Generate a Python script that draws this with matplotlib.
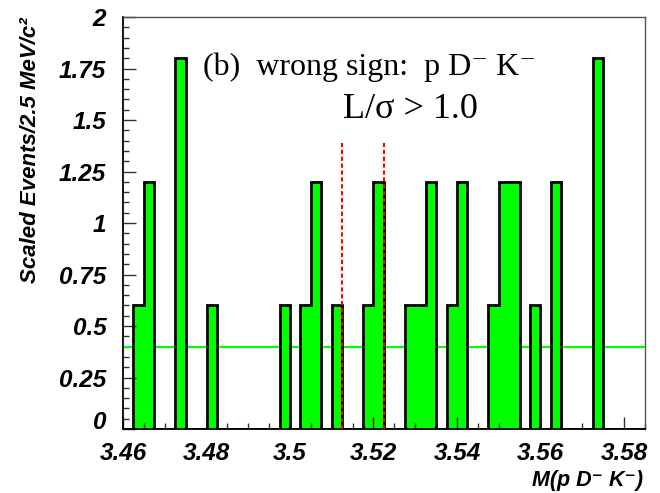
import numpy as np
import matplotlib
matplotlib.use("Agg")
import matplotlib.pyplot as plt
from matplotlib.ticker import FixedLocator, MultipleLocator

# M(p D- K-) spectrum, 2.5 MeV bins from 3.460 to 3.585 GeV
bin_edges = np.linspace(3.46, 3.585, 51)
scaled_events = [
    0.0, 0.6, 1.2, 0.0, 0.0, 1.8, 0.0, 0.0, 0.6, 0.0,
    0.0, 0.0, 0.0, 0.0, 0.0, 0.6, 0.0, 0.6, 1.2, 0.0,
    0.6, 0.0, 0.0, 0.6, 1.2, 0.0, 0.0, 0.6, 0.6, 1.2,
    0.0, 0.6, 1.2, 0.0, 0.0, 0.6, 1.2, 1.2, 0.0, 0.6,
    0.0, 1.2, 0.0, 0.0, 0.0, 1.8, 0.0, 0.0, 0.0, 0.0,
]
background_level = 0.4
signal_window = [3.5125, 3.5225]
window_top = 1.4

x_ticks = [3.46, 3.48, 3.5, 3.52, 3.54, 3.56, 3.58]
x_labels = ["3.46", "3.48", "3.5", "3.52", "3.54", "3.56", "3.58"]
y_ticks = [0, 0.25, 0.5, 0.75, 1, 1.25, 1.5, 1.75, 2]
y_labels = ["0", "0.25", "0.5", "0.75", "1", "1.25", "1.5", "1.75", "2"]

sans = ["Liberation Sans", "DejaVu Sans"]
serif = ["Liberation Serif", "DejaVu Serif"]

fig = plt.figure(figsize=(6.6, 4.93), dpi=100)
ax = fig.add_axes([0.1864, 0.1298, 0.7906, 0.8357])

ax.stairs(scaled_events, bin_edges, fill=True, color="#00ff00", zorder=1)
ax.axhline(background_level, color="#00ff00", lw=1.5, zorder=2)
ax.stairs(scaled_events, bin_edges, color="black", lw=2, zorder=3)
ax.vlines(signal_window, 0, window_top, colors="red", lw=1.5,
          linestyles=(0, (2, 1.3)), zorder=4)

ax.set_xlim(3.46, 3.585)
ax.set_ylim(0, 2)

ax.xaxis.set_major_locator(FixedLocator(x_ticks))
ax.xaxis.set_minor_locator(MultipleLocator(0.005))
ax.set_xticklabels(x_labels)
ax.yaxis.set_major_locator(FixedLocator(y_ticks))
ax.yaxis.set_minor_locator(MultipleLocator(0.05))
ax.set_yticklabels(y_labels)

ax.tick_params(which="both", direction="in", top=False, right=False,
               color="#333333", width=1)
ax.tick_params(which="major", length=9)
ax.tick_params(which="minor", length=4)
ax.tick_params(axis="x", which="major", pad=9)
ax.tick_params(axis="y", which="major", pad=12)
for lab in ax.get_xticklabels() + ax.get_yticklabels():
    lab.set_family(sans)
    lab.set_weight("bold")
    lab.set_style("italic")
    lab.set_fontsize(17.5)

# the zero label sits on its tick so it clears the x labels
ax.get_yticklabels()[0].set_va("baseline")

for side in ["left", "bottom"]:
    ax.spines[side].set_color("black")
    ax.spines[side].set_linewidth(1.3)
for side in ["top", "right"]:
    ax.spines[side].set_color("#555555")
    ax.spines[side].set_linewidth(1)

ax.text(0.1533, 0.859, "(b)  wrong sign:  p D\u207b K\u207b", transform=ax.transAxes,
        family=serif, fontsize=23, va="baseline", ha="left")
ax.text(0.4215, 0.755, "L/\u03c3 > 1.0", transform=ax.transAxes,
        family=serif, fontsize=26, va="baseline", ha="left")

fig.text(0.974, 0.0142, "M(p D\u207b K\u207b)", family=sans, weight="bold",
         style="italic", fontsize=15.5, ha="right", va="baseline")
fig.text(0.046, 0.696, "Scaled Events/2.5 MeV/c\u00b2", family=sans, weight="bold",
         style="italic", fontsize=16, rotation=90, ha="center", va="center")

fig.savefig("out.png", dpi=100)
